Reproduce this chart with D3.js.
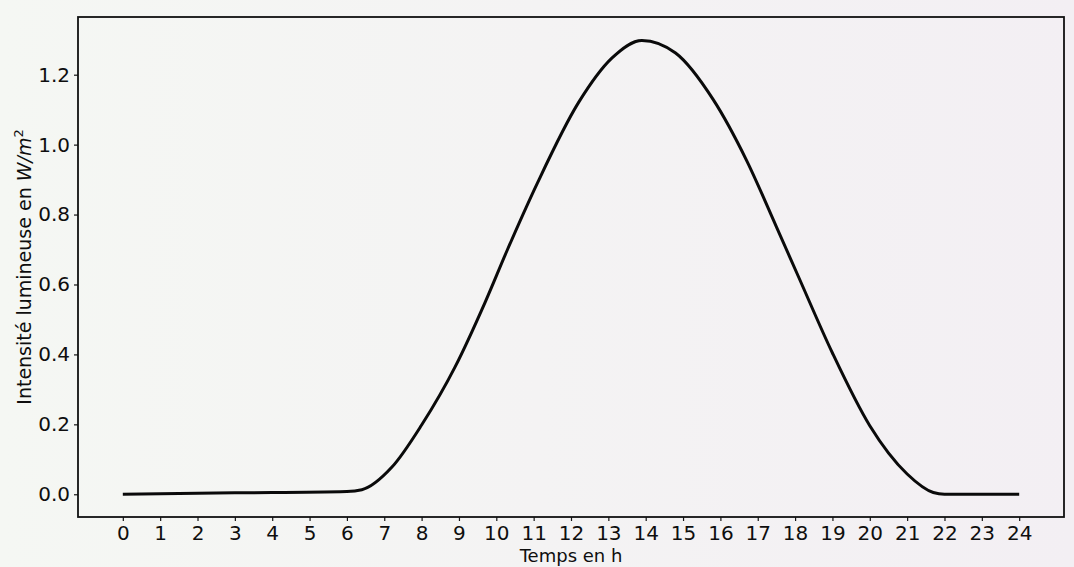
<!DOCTYPE html>
<html>
<head>
<meta charset="utf-8">
<script src="https://cdn.jsdelivr.net/npm/d3@7"></script>
<style>
  body { margin: 0; background: #f4f5f2; }
  svg { display: block; }
  text { font-family: "DejaVu Sans", sans-serif; fill: #0e0e0e; }
</style>
</head>
<body>
<div id="chart"></div>
<script>
// values (hours -> W/m²)
const hours = [0, 3, 6.0, 6.4, 7.2, 8.0, 8.9, 9.7, 10.3, 11.1, 12.2, 13.1, 13.9,
  14.8, 15.8, 16.7, 17.5, 18.1, 19.0, 20.0, 21.0, 21.7, 22.0, 24];
const intensity = [0.0, 0.004, 0.008, 0.013, 0.077, 0.198, 0.365, 0.549, 0.700, 0.890, 1.120, 1.248, 1.298,
  1.262, 1.130, 0.955, 0.765, 0.620, 0.404, 0.196, 0.058, 0.005, 0.0, 0.0];
const xTickLabels = [0, 1, 2, 3, 4, 5, 6, 7, 8, 9, 10, 11, 12, 13, 14, 15, 16, 17, 18, 19, 20, 21, 22, 23, 24];
const yTickLabels = [0.0, 0.2, 0.4, 0.6, 0.8, 1.0, 1.2];

const width = 1074;
const height = 567;
const mLeft = 78, mRight = 1064, mTop = 17, mBottom = 517;

const svg = d3.select('#chart')
  .append('svg')
  .attr('width', width)
  .attr('height', height);

// paper-like background
const grad = svg.append('defs').append('linearGradient')
  .attr('id', 'paper').attr('x1', 0).attr('x2', 1).attr('y1', 0).attr('y2', 0);
grad.append('stop').attr('offset', '0%').attr('stop-color', '#f5f7f3');
grad.append('stop').attr('offset', '100%').attr('stop-color', '#f3eff3');
svg.append('rect').attr('width', width).attr('height', height).attr('fill', 'url(#paper)');

const x = d3.scaleLinear().domain([-1.2, 25.2]).range([mLeft, mRight]);
const y = d3.scaleLinear().domain([-0.065, 1.365]).range([mBottom, mTop]);

// x axis
const xAxis = svg.append('g')
  .attr('transform', `translate(0,${mBottom})`)
  .call(d3.axisBottom(x).tickValues(xTickLabels).tickFormat(d3.format('d')).tickSize(4).tickPadding(5));
xAxis.select('.domain').remove();
xAxis.selectAll('text').style('font-size', '20px').attr('fill', '#0e0e0e');
xAxis.selectAll('line').attr('stroke', '#141414').attr('stroke-width', 1.2);

// y axis
const yAxis = svg.append('g')
  .attr('transform', `translate(${mLeft},0)`)
  .call(d3.axisLeft(y).tickValues(yTickLabels).tickFormat(d3.format('.1f')).tickSize(4).tickPadding(4));
yAxis.select('.domain').remove();
yAxis.selectAll('text').style('font-size', '20px').attr('fill', '#0e0e0e');
yAxis.selectAll('line').attr('stroke', '#141414').attr('stroke-width', 1.2);

// axes frame
svg.append('rect')
  .attr('x', mLeft).attr('y', mTop)
  .attr('width', mRight - mLeft).attr('height', mBottom - mTop)
  .attr('fill', 'none')
  .attr('stroke', '#111')
  .attr('stroke-width', 1.8);

// curve
const line = d3.line()
  .x((d, i) => x(hours[i]))
  .y((d) => y(d))
  .curve(d3.curveMonotoneX);

svg.append('path')
  .datum(intensity)
  .attr('d', line)
  .attr('fill', 'none')
  .attr('stroke', '#0a0a0a')
  .attr('stroke-width', 3)
  .attr('stroke-linejoin', 'round');

// axis labels
svg.append('text')
  .attr('x', (mLeft + mRight) / 2)
  .attr('y', 562)
  .attr('text-anchor', 'middle')
  .style('font-size', '18px')
  .text('Temps en h');

const yLabel = svg.append('text')
  .attr('transform', `translate(31,${(mTop + mBottom) / 2}) rotate(-90)`)
  .attr('text-anchor', 'middle')
  .style('font-size', '19px');
yLabel.append('tspan').text('Intensité lumineuse en ');
yLabel.append('tspan').style('font-style', 'italic').text('W/m');
yLabel.append('tspan').attr('dy', -8).style('font-size', '13px').text('2');
</script>
</body>
</html>
